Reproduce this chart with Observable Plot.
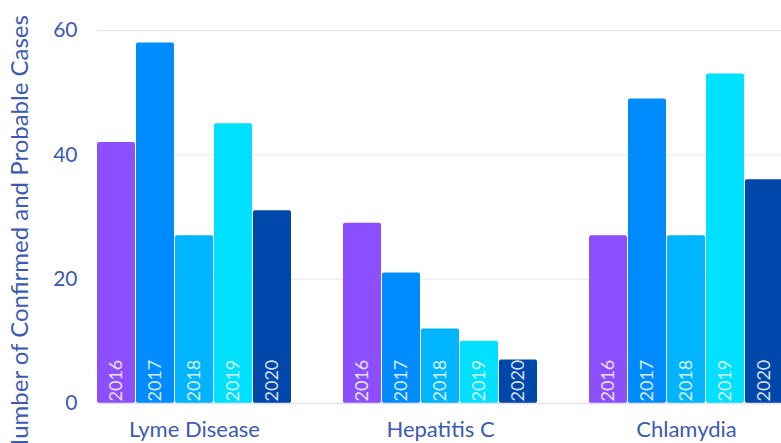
<!DOCTYPE html>
<html>
<head>
<meta charset="utf-8">
<script src="https://cdn.jsdelivr.net/npm/d3@7"></script>
<script src="https://cdn.jsdelivr.net/npm/@observablehq/plot@0.6"></script>
<style>
  html, body { margin: 0; padding: 0; background: #fff; overflow: hidden; }
  body { width: 781px; height: 443px; }
</style>
</head>
<body>
<div id="chart"></div>
<script>
const categories = ["Lyme Disease", "Hepatitis C", "Chlamydia"];
const years = ["2016", "2017", "2018", "2019", "2020"];
const lymeValues = [42, 58, 27, 45, 31];
const hepCValues = [29, 21, 12, 10, 7];
const chlamydiaValues = [27, 49, 27, 53, 36];
const yTicks = [0, 20, 40, 60];
const yearColors = ["#8c4fff", "#008cff", "#00b4ff", "#00e0ff", "#0047ab"];

const seriesByCategory = [lymeValues, hepCValues, chlamydiaValues];
const data = categories.flatMap((c, i) =>
  years.map((y, j) => ({category: c, year: y, value: seriesByCategory[i][j]}))
);

const textColor = "#3b5bb5";

const chart = Plot.plot({
  width: 781,
  height: 443,
  marginLeft: 95,
  marginRight: 0,
  marginTop: 30,
  marginBottom: 40,
  style: {fontFamily: "Lato, 'Open Sans', sans-serif", color: textColor, background: "#fff", overflow: "hidden"},
  fx: {domain: categories, range: [96, 785], paddingInner: 0.2105, paddingOuter: 0, label: null},
  x: {domain: years, paddingInner: 0.026, paddingOuter: 0, axis: null},
  y: {domain: [0, 60], ticks: yTicks, label: null},
  color: {domain: years, range: yearColors},
  marks: [
    Plot.axisY({ticks: yTicks.filter(d => d > 0), tickSize: -700, text: null, stroke: "#e6e6f4", strokeOpacity: 1, label: null, anchor: "left"}),
    Plot.barY(data, {fx: "category", x: "year", y: "value", fill: "year", rx: 2}),
    Plot.text(data, {fx: "category", x: "year", y: 0, text: "year", rotate: -90, textAnchor: "start", dy: -2, fill: "#fff", fillOpacity: 0.85, fontSize: 18}),
    Plot.axisY({ticks: [0], tickSize: -700, text: null, stroke: "#e2e2f2", strokeWidth: 1.5, strokeOpacity: 1, label: null, anchor: "left"}),
    Plot.axisY({ticks: yTicks, tickSize: 0, tickPadding: 20, fontSize: 21, label: null, anchor: "left"}),
    Plot.axisFx({anchor: "bottom", tickSize: 0, tickPadding: 18, fontSize: 22, letterSpacing: "1.1px", label: null}),
    Plot.text(["Number of Confirmed and Probable Cases"], {facet: "super", frameAnchor: "left", textAnchor: "middle", rotate: -90, dx: -77, dy: 19, fontSize: 24, letterSpacing: "0.3px", fill: textColor})
  ]
});
document.getElementById("chart").appendChild(chart);
</script>
</body>
</html>
